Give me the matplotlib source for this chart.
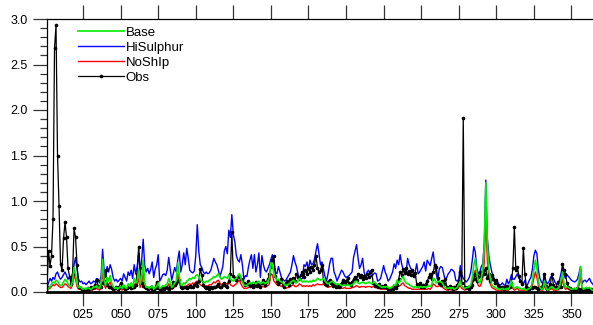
import numpy as np
import matplotlib
matplotlib.use("Agg")
import matplotlib.pyplot as plt
from matplotlib.ticker import MultipleLocator, FixedLocator

plt.rcParams['font.family'] = ['Liberation Sans', 'DejaVu Sans']

# day of year 1..365
days = np.arange(1, 366)

base = [
    0.02, 0.04, 0.06, 0.09, 0.11, 0.10, 0.13, 0.12, 0.09, 0.07,
    0.08, 0.11, 0.14, 0.12, 0.09, 0.07, 0.06, 0.12, 0.27, 0.20,
    0.09, 0.05, 0.06, 0.04, 0.03, 0.04, 0.03, 0.05, 0.04, 0.03,
    0.04, 0.06, 0.05, 0.07, 0.05, 0.04, 0.10, 0.36, 0.12, 0.07,
    0.16, 0.12, 0.18, 0.10, 0.06, 0.04, 0.05, 0.03, 0.05, 0.06,
    0.04, 0.08, 0.05, 0.04, 0.09, 0.06, 0.10, 0.05, 0.15, 0.10,
    0.12, 0.25, 0.09, 0.15, 0.35, 0.10, 0.05, 0.06, 0.04, 0.05,
    0.07, 0.03, 0.05, 0.06, 0.10, 0.04, 0.05, 0.07, 0.06, 0.08,
    0.09, 0.15, 0.10, 0.05, 0.07, 0.10, 0.12, 0.32, 0.18, 0.08,
    0.07, 0.10, 0.09, 0.12, 0.13, 0.15, 0.14, 0.16, 0.15, 0.18,
    0.19, 0.17, 0.14, 0.12, 0.11, 0.10, 0.12, 0.11, 0.13, 0.14,
    0.15, 0.17, 0.16, 0.18, 0.20, 0.17, 0.14, 0.15, 0.17, 0.16,
    0.15, 0.19, 0.14, 0.13, 0.12, 0.14, 0.15, 0.18, 0.20, 0.15,
    0.11, 0.08, 0.07, 0.07, 0.09, 0.10, 0.09, 0.11, 0.10, 0.09,
    0.11, 0.12, 0.09, 0.10, 0.11, 0.09, 0.10, 0.12, 0.15, 0.32,
    0.30, 0.20, 0.16, 0.13, 0.14, 0.12, 0.11, 0.10, 0.08, 0.07,
    0.08, 0.09, 0.10, 0.12, 0.13, 0.11, 0.10, 0.12, 0.15, 0.13,
    0.11, 0.12, 0.11, 0.12, 0.11, 0.12, 0.11, 0.13, 0.12, 0.13,
    0.15, 0.14, 0.13, 0.14, 0.15, 0.12, 0.10, 0.09, 0.10, 0.11,
    0.12, 0.10, 0.09, 0.08, 0.09, 0.08, 0.07, 0.07, 0.08, 0.07,
    0.08, 0.07, 0.07, 0.08, 0.09, 0.11, 0.12, 0.10, 0.09, 0.10,
    0.11, 0.10, 0.09, 0.10, 0.11, 0.10, 0.09, 0.10, 0.11, 0.09,
    0.08, 0.07, 0.06, 0.05, 0.06, 0.05, 0.06, 0.05, 0.04, 0.05,
    0.06, 0.08, 0.07, 0.13, 0.10, 0.12, 0.15, 0.17, 0.12, 0.10,
    0.09, 0.08, 0.07, 0.06, 0.05, 0.06, 0.05, 0.06, 0.05, 0.06,
    0.05, 0.06, 0.05, 0.06, 0.07, 0.06, 0.08, 0.15, 0.14, 0.10,
    0.11, 0.12, 0.11, 0.10, 0.07, 0.05, 0.04, 0.04, 0.05, 0.04,
    0.05, 0.03, 0.04, 0.05, 0.08, 0.12, 0.06, 0.05, 0.04, 0.05,
    0.05, 0.06, 0.08, 0.16, 0.30, 0.37, 0.20, 0.12, 0.10, 0.15,
    0.25, 0.50, 1.20, 0.55, 0.25, 0.15, 0.08, 0.06, 0.05, 0.04,
    0.04, 0.03, 0.03, 0.04, 0.03, 0.03, 0.04, 0.03, 0.06, 0.12,
    0.06, 0.04, 0.05, 0.06, 0.04, 0.04, 0.03, 0.04, 0.03, 0.02,
    0.03, 0.04, 0.05, 0.12, 0.25, 0.35, 0.26, 0.12, 0.05, 0.03,
    0.03, 0.12, 0.05, 0.02, 0.03, 0.05, 0.06, 0.04, 0.03, 0.03,
    0.04, 0.06, 0.12, 0.22, 0.10, 0.05, 0.06, 0.05, 0.04, 0.03,
    0.03, 0.04, 0.03, 0.05, 0.12, 0.28, 0.05, 0.03, 0.04, 0.05,
    0.04, 0.05, 0.03, 0.02, 0.02,
]

hisulphur = [
    0.05, 0.10, 0.15, 0.12, 0.16, 0.14, 0.20, 0.22, 0.17, 0.14,
    0.16, 0.19, 0.22, 0.18, 0.14, 0.17, 0.13, 0.20, 0.30, 0.38,
    0.25, 0.14, 0.11, 0.12, 0.09, 0.10, 0.08, 0.10, 0.12, 0.09,
    0.10, 0.12, 0.11, 0.15, 0.14, 0.10, 0.18, 0.47, 0.24, 0.16,
    0.28, 0.22, 0.30, 0.25, 0.16, 0.12, 0.14, 0.11, 0.13, 0.15,
    0.12, 0.20, 0.16, 0.12, 0.22, 0.18, 0.24, 0.15, 0.30, 0.20,
    0.28, 0.43, 0.22, 0.35, 0.58, 0.30, 0.22, 0.26, 0.20, 0.25,
    0.33, 0.16, 0.25, 0.30, 0.41, 0.12, 0.15, 0.19, 0.20, 0.18,
    0.24, 0.38, 0.25, 0.13, 0.20, 0.27, 0.22, 0.35, 0.45, 0.22,
    0.30, 0.43, 0.30, 0.48, 0.37, 0.24, 0.22, 0.21, 0.23, 0.40,
    0.74, 0.45, 0.30, 0.27, 0.22, 0.20, 0.22, 0.20, 0.21, 0.24,
    0.30, 0.37, 0.33, 0.30, 0.24, 0.17, 0.22, 0.28, 0.45, 0.50,
    0.42, 0.68, 0.60, 0.85, 0.63, 0.55, 0.40, 0.35, 0.33, 0.41,
    0.30, 0.14, 0.18, 0.17, 0.27, 0.35, 0.41, 0.26, 0.41, 0.22,
    0.30, 0.43, 0.16, 0.40, 0.30, 0.24, 0.22, 0.26, 0.30, 0.36,
    0.41, 0.32, 0.22, 0.20, 0.28, 0.22, 0.16, 0.14, 0.12, 0.13,
    0.16, 0.19, 0.22, 0.30, 0.40, 0.33, 0.28, 0.20, 0.13, 0.14,
    0.15, 0.30, 0.28, 0.33, 0.24, 0.35, 0.30, 0.31, 0.36, 0.45,
    0.53, 0.42, 0.30, 0.33, 0.25, 0.17, 0.12, 0.20, 0.30, 0.37,
    0.37, 0.22, 0.18, 0.12, 0.16, 0.20, 0.24, 0.22, 0.18, 0.16,
    0.17, 0.18, 0.20, 0.22, 0.38, 0.45, 0.52, 0.37, 0.26, 0.30,
    0.37, 0.22, 0.15, 0.22, 0.24, 0.20, 0.17, 0.19, 0.21, 0.20,
    0.12, 0.13, 0.15, 0.22, 0.29, 0.22, 0.18, 0.12, 0.14, 0.18,
    0.22, 0.31, 0.26, 0.35, 0.30, 0.41, 0.31, 0.24, 0.20, 0.22,
    0.37, 0.30, 0.26, 0.24, 0.20, 0.22, 0.31, 0.20, 0.22, 0.25,
    0.28, 0.33, 0.23, 0.35, 0.32, 0.29, 0.37, 0.44, 0.29, 0.20,
    0.13, 0.25, 0.28, 0.27, 0.20, 0.13, 0.16, 0.20, 0.22, 0.25,
    0.24, 0.22, 0.13, 0.12, 0.14, 0.29, 0.20, 0.15, 0.13, 0.11,
    0.13, 0.16, 0.22, 0.35, 0.50, 0.44, 0.26, 0.20, 0.22, 0.28,
    0.31, 0.55, 1.23, 0.60, 0.40, 0.30, 0.22, 0.17, 0.13, 0.12,
    0.11, 0.07, 0.08, 0.10, 0.08, 0.07, 0.14, 0.09, 0.12, 0.19,
    0.14, 0.14, 0.17, 0.20, 0.15, 0.13, 0.11, 0.09, 0.13, 0.05,
    0.09, 0.13, 0.16, 0.25, 0.40, 0.46, 0.42, 0.24, 0.15, 0.11,
    0.09, 0.20, 0.12, 0.09, 0.11, 0.16, 0.18, 0.15, 0.11, 0.08,
    0.10, 0.13, 0.20, 0.28, 0.19, 0.15, 0.19, 0.17, 0.15, 0.13,
    0.12, 0.11, 0.12, 0.14, 0.20, 0.28, 0.09, 0.12, 0.13, 0.11,
    0.13, 0.15, 0.11, 0.09, 0.07,
]

noship = [
    0.01, 0.03, 0.04, 0.06, 0.08, 0.07, 0.09, 0.08, 0.06, 0.05,
    0.05, 0.07, 0.09, 0.08, 0.06, 0.05, 0.04, 0.08, 0.18, 0.14,
    0.06, 0.03, 0.04, 0.03, 0.02, 0.02, 0.02, 0.03, 0.02, 0.02,
    0.02, 0.03, 0.03, 0.04, 0.03, 0.02, 0.06, 0.22, 0.08, 0.04,
    0.10, 0.08, 0.11, 0.06, 0.04, 0.02, 0.03, 0.02, 0.03, 0.03,
    0.02, 0.05, 0.03, 0.02, 0.05, 0.04, 0.06, 0.03, 0.09, 0.06,
    0.07, 0.16, 0.05, 0.09, 0.22, 0.06, 0.03, 0.04, 0.02, 0.03,
    0.04, 0.02, 0.03, 0.04, 0.06, 0.02, 0.03, 0.04, 0.04, 0.05,
    0.05, 0.09, 0.06, 0.03, 0.04, 0.06, 0.07, 0.20, 0.11, 0.05,
    0.04, 0.06, 0.05, 0.07, 0.08, 0.09, 0.08, 0.10, 0.09, 0.11,
    0.12, 0.10, 0.08, 0.07, 0.06, 0.05, 0.07, 0.06, 0.08, 0.08,
    0.09, 0.11, 0.10, 0.12, 0.13, 0.10, 0.08, 0.09, 0.10, 0.09,
    0.09, 0.12, 0.08, 0.07, 0.06, 0.08, 0.09, 0.11, 0.13, 0.09,
    0.06, 0.04, 0.04, 0.04, 0.05, 0.06, 0.05, 0.06, 0.05, 0.05,
    0.06, 0.07, 0.05, 0.06, 0.06, 0.05, 0.06, 0.07, 0.09, 0.20,
    0.19, 0.12, 0.10, 0.08, 0.09, 0.07, 0.06, 0.06, 0.05, 0.04,
    0.05, 0.05, 0.06, 0.07, 0.08, 0.06, 0.06, 0.07, 0.09, 0.08,
    0.06, 0.07, 0.06, 0.07, 0.06, 0.07, 0.06, 0.08, 0.07, 0.08,
    0.09, 0.08, 0.08, 0.08, 0.09, 0.07, 0.06, 0.05, 0.06, 0.06,
    0.07, 0.06, 0.05, 0.04, 0.05, 0.04, 0.04, 0.04, 0.05, 0.04,
    0.04, 0.04, 0.04, 0.05, 0.05, 0.06, 0.07, 0.06, 0.05, 0.06,
    0.06, 0.06, 0.05, 0.06, 0.06, 0.06, 0.05, 0.06, 0.06, 0.05,
    0.04, 0.04, 0.03, 0.03, 0.03, 0.03, 0.03, 0.03, 0.02, 0.03,
    0.03, 0.04, 0.04, 0.08, 0.06, 0.07, 0.09, 0.10, 0.07, 0.06,
    0.05, 0.04, 0.04, 0.03, 0.03, 0.03, 0.03, 0.03, 0.03, 0.03,
    0.03, 0.03, 0.03, 0.03, 0.04, 0.03, 0.05, 0.09, 0.08, 0.06,
    0.06, 0.07, 0.06, 0.06, 0.04, 0.03, 0.02, 0.02, 0.03, 0.02,
    0.03, 0.02, 0.02, 0.03, 0.05, 0.07, 0.04, 0.03, 0.02, 0.03,
    0.03, 0.04, 0.05, 0.10, 0.19, 0.24, 0.13, 0.07, 0.06, 0.09,
    0.16, 0.33, 0.80, 0.36, 0.16, 0.09, 0.05, 0.04, 0.03, 0.02,
    0.02, 0.02, 0.02, 0.02, 0.02, 0.02, 0.02, 0.02, 0.04, 0.07,
    0.04, 0.02, 0.03, 0.04, 0.02, 0.02, 0.02, 0.02, 0.02, 0.01,
    0.02, 0.02, 0.03, 0.07, 0.15, 0.22, 0.16, 0.07, 0.03, 0.02,
    0.02, 0.07, 0.03, 0.01, 0.02, 0.03, 0.04, 0.02, 0.02, 0.02,
    0.02, 0.04, 0.07, 0.14, 0.06, 0.03, 0.04, 0.03, 0.02, 0.02,
    0.02, 0.02, 0.02, 0.03, 0.07, 0.18, 0.03, 0.02, 0.02, 0.03,
    0.02, 0.03, 0.02, 0.01, 0.01,
]

obs = [
    0.06, 0.45, 0.29, 0.40, 0.80, 2.68, 2.93, 1.50, 0.95, 0.31,
    0.24, 0.59, 0.77, 0.60, 0.26, 0.17, 0.09, 0.20, 0.70, 0.60,
    0.30, 0.06, 0.04, 0.03, 0.02, 0.03, 0.02, 0.04, 0.03, 0.05,
    0.04, 0.06, 0.08, 0.13, 0.07, 0.05, 0.06, 0.10, 0.12, 0.24,
    0.08, 0.06, 0.05, 0.04, 0.03, 0.04, 0.05, 0.03, 0.06, 0.10,
    0.05, 0.04, 0.03, 0.04, 0.06, 0.05, 0.04, 0.05, 0.06, 0.08,
    0.20, 0.50, 0.26, 0.10, 0.07, 0.05, 0.04, 0.03, 0.04, 0.05,
    0.03, 0.02, 0.04, 0.11, 0.04, 0.03, 0.02, 0.04, 0.03, 0.05,
    0.04, 0.03, 0.05, 0.06, 0.11, 0.08, 0.10, 0.12, 0.13, 0.06,
    0.04, 0.05, 0.06, 0.04, 0.05, 0.07, 0.05, 0.06, 0.08, 0.10,
    0.07, 0.12, 0.25, 0.19, 0.08, 0.05, 0.04, 0.06, 0.03, 0.05,
    0.04, 0.06, 0.05, 0.07, 0.09, 0.06, 0.05, 0.08, 0.10, 0.07,
    0.06, 0.12, 0.20, 0.66, 0.18, 0.15, 0.13, 0.16, 0.18, 0.14,
    0.13, 0.10, 0.08, 0.09, 0.12, 0.07, 0.09, 0.06, 0.08, 0.11,
    0.07, 0.09, 0.06, 0.10, 0.13, 0.08, 0.11, 0.14, 0.20, 0.28,
    0.35, 0.40, 0.18, 0.12, 0.09, 0.11, 0.14, 0.08, 0.06, 0.10,
    0.12, 0.08, 0.14, 0.11, 0.15, 0.12, 0.20, 0.17, 0.14, 0.19,
    0.22, 0.17, 0.24, 0.20, 0.26, 0.22, 0.27, 0.24, 0.30, 0.40,
    0.26, 0.22, 0.24, 0.30, 0.12, 0.09, 0.08, 0.11, 0.13, 0.10,
    0.07, 0.09, 0.06, 0.08, 0.05, 0.07, 0.10, 0.13, 0.09, 0.12,
    0.15, 0.10, 0.08, 0.11, 0.14, 0.17, 0.13, 0.20, 0.16, 0.19,
    0.14, 0.18, 0.15, 0.20, 0.17, 0.22, 0.24, 0.10, 0.07, 0.08,
    0.06, 0.09, 0.05, 0.07, 0.06, 0.08, 0.04, 0.03, 0.02, 0.04,
    0.03, 0.05, 0.04, 0.08, 0.14, 0.22, 0.19, 0.25, 0.21, 0.26,
    0.20, 0.23, 0.19, 0.24, 0.18, 0.21, 0.09, 0.07, 0.10, 0.06,
    0.08, 0.05, 0.09, 0.12, 0.16, 0.20, 0.14, 0.22, 0.30, 0.28,
    0.15, 0.10, 0.08, 0.12, 0.09, 0.14, 0.06, 0.04, 0.07, 0.05,
    0.03, 0.06, 0.04, 0.08, 0.12, 0.22, 0.10, 1.91, 0.06, 0.04,
    0.05, 0.03, 0.06, 0.08, 0.14, 0.20, 0.12, 0.16, 0.22, 0.18,
    0.24, 0.20, 0.26, 0.15, 0.20, 0.12, 0.19, 0.14, 0.10, 0.13,
    0.08, 0.05, 0.04, 0.06, 0.03, 0.05, 0.07, 0.04, 0.06, 0.10,
    0.26, 0.71, 0.24, 0.27, 0.18, 0.12, 0.09, 0.48, 0.20, 0.06,
    0.04, 0.03, 0.05, 0.04, 0.06, 0.05, 0.04, 0.03, 0.04, 0.05,
    0.08, 0.20, 0.07, 0.03, 0.05, 0.09, 0.20, 0.08, 0.04, 0.06,
    0.11, 0.06, 0.05, 0.31, 0.24, 0.20, 0.10, 0.05, 0.04, 0.03,
    0.02, 0.03, 0.02, 0.04, 0.03, 0.02, 0.03, 0.02, 0.03, 0.02,
    0.03, 0.02, 0.03, 0.02, 0.02,
]

x_ticks = [25, 50, 75, 100, 125, 150, 175, 200, 225, 250, 275, 300, 325, 350]
x_tick_labels = ["%03d" % t for t in x_ticks]

fig = plt.figure(figsize=(5.93, 3.25), dpi=100)
ax = fig.add_axes([47 / 593, 33 / 325, 547 / 593, 273 / 325])

h_blue, = ax.plot(days, hisulphur, color='#0000ff', lw=1.0, label='HiSulphur')
h_red, = ax.plot(days, noship, color='#ff0000', lw=1.0, label='NoShIp')
h_obs, = ax.plot(days, obs, color='black', lw=0.9, marker='o', markersize=1.6,
                 label='Obs')
h_green, = ax.plot(days, base, color='#00ee00', lw=1.2, label='Base')

ax.set_xlim(1, 365)
ax.set_ylim(0, 3.0)

ax.xaxis.set_major_locator(FixedLocator(x_ticks))
ax.set_xticklabels(x_tick_labels)
ax.yaxis.set_major_locator(MultipleLocator(0.5))
ax.yaxis.set_minor_locator(MultipleLocator(0.1))
ax.yaxis.set_major_formatter(matplotlib.ticker.FormatStrFormatter('%.1f'))

ax.tick_params(axis='both', which='major', direction='out', length=10,
               width=0.9, labelsize=9, color='#333333')
ax.tick_params(axis='y', which='minor', direction='out', length=5,
               width=0.9, color='#333333')
ax.tick_params(axis='x', top=True, pad=2)
ax.tick_params(axis='y', pad=4)

for s in ['left', 'top', 'right']:
    ax.spines[s].set_linewidth(0.9)
ax.spines['bottom'].set_linewidth(2.0)

ax.legend(handles=[h_green, h_blue, h_red, h_obs], loc='upper left',
          bbox_to_anchor=(0.0567, 0.972), frameon=False, fontsize=9.5,
          handlelength=3.5, handletextpad=0.1, labelspacing=0.2,
          borderpad=0, borderaxespad=0)

fig.savefig('out.png', dpi=100)
